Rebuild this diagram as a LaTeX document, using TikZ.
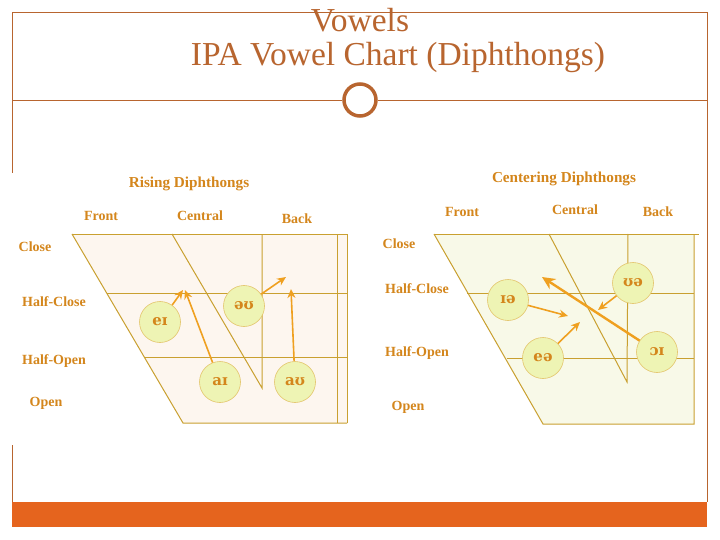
\documentclass[tikz,border=0pt]{standalone}
\usepackage{fontspec}
\setmainfont{Liberation Serif}
\newfontfamily\ipafont{DejaVu Serif}
\usetikzlibrary{arrows.meta}
\definecolor{frameC}{HTML}{B8652F}
\definecolor{barC}{HTML}{E5641E}
\definecolor{lineC}{HTML}{C9A030}
\definecolor{labC}{HTML}{D4861C}
\definecolor{fillL}{HTML}{FDF6EF}
\definecolor{fillR}{HTML}{F8F9E8}
\definecolor{circF}{HTML}{EEF4B4}
\definecolor{circD}{HTML}{E3C46A}
\definecolor{arrC}{HTML}{EFA020}
\tikzset{
  frame/.style={draw=frameC, line width=0.9pt},
  grid/.style={draw=lineC, line width=1pt},
  lab/.style={text=labC, font=\bfseries\fontsize{14}{16}\selectfont, inner sep=0pt},
  head/.style={text=labC, font=\bfseries\fontsize{15.2}{17}\selectfont, inner sep=0pt},
  vow/.style={circle, draw=circD, fill=circF, line width=0.6pt, minimum size=41pt, inner sep=0pt,
     text=labC, font=\ipafont\bfseries\fontsize{15}{17}\selectfont},
  arr/.style={draw=arrC, line width=1.6pt, -{Stealth[length=9pt,width=8pt]}},
  bigarr/.style={draw=arrC, line width=2.4pt, -{Stealth[length=13pt,width=12pt]}},
  ttl/.style={text=frameC, font=\fontsize{33.5}{36}\selectfont, inner sep=0pt}
}
\begin{document}
\begin{tikzpicture}[x=1pt,y=-1pt]
\useasboundingbox (0,0) rectangle (720,540);
\fill[white] (0,0) rectangle (720,540);
% frame
\draw[frame] (12,173) -- (12,12) -- (707,12) -- (707,502);
\draw[frame] (12,445) -- (12,502);
\draw[frame] (12,100) -- (342,100);
\draw[frame] (378,100) -- (707,100);
\node[circle, draw=frameC, line width=3.5pt, minimum width=31pt, minimum height=32pt, inner sep=0pt] (orn) at (360,100) {};
\fill[barC] (12,502) rectangle (707,527);
% titles
\node[ttl] (t1) at (360,20) {Vowels};
\node[ttl] (t2) at (398,57) {IPA Vowel Chart (Diphthongs)};

% ---------- left chart ----------
\fill[fillL] (72,234) -- (347,234) -- (347,423) -- (183,423) -- cycle;
\draw[grid] (72,234) -- (347,234);
\draw[grid] (72,234) -- (183,423) -- (347,423);
\draw[grid] (337,234) -- (337,423);
\draw[grid] (347,234) -- (347,423);
\draw[grid] (107,293) -- (347,293);
\draw[grid] (144,357) -- (347,357);
\draw[grid] (172,234) -- (262,388) -- (262,234);

\node[head] (hl) at (189,184) {Rising Diphthongs};
\node[lab] (lf) at (101,216) {Front};
\node[lab] (lc) at (200,216) {Central};
\node[lab] (lb) at (297,219) {Back};
\node[lab] (lcl) at (35,247) {Close};
\node[lab] (lhc) at (54,302) {Half-Close};
\node[lab] (lho) at (54,361) {Half-Open};
\node[lab] (lop) at (46,403) {Open};

\node[vow] (ei) at (160,322) {eɪ};
\node[vow] (ou) at (244,306) {əʊ};
\node[vow] (ai) at (220,382) {aɪ};
\node[vow] (au) at (295,382) {aʊ};
\coordinate (eiE) at (183,290);
\coordinate (aiE) at (185,290);
\coordinate (ouE) at (286,277);
\coordinate (auE) at (291,289);
\draw[arr] (ei) -- (eiE);
\draw[arr] (ai) -- (aiE);
\draw[arr] (ou) -- (ouE);
\draw[arr] (au) -- (auE);

% ---------- right chart ----------
\fill[fillR] (434,234) -- (694,234) -- (694,424) -- (543,424) -- cycle;
\draw[grid] (434,234) -- (699,234);
\draw[grid] (434,234) -- (543,424) -- (694,424) -- (694,234);
\draw[grid] (467,293) -- (694,293);
\draw[grid] (507,358) -- (694,358);
\draw[grid] (549,234) -- (627,382) -- (628,234);

\node[head] (hr) at (564,179) {Centering Diphthongs};
\node[lab] (rf) at (462,212) {Front};
\node[lab] (rc) at (575,210) {Central};
\node[lab] (rb) at (658,212) {Back};
\node[lab] (rcl) at (399,244) {Close};
\node[lab] (rhc) at (417,289) {Half-Close};
\node[lab] (rho) at (417,353) {Half-Open};
\node[lab] (rop) at (408,407) {Open};

\node[vow] (ia) at (508,300) {ɪə};
\node[vow] (ua) at (633,283) {ʊə};
\node[vow] (ea) at (543,358) {eə};
\node[vow] (oi) at (657,352) {ɔɪ};
\coordinate (iaE) at (568,316);
\coordinate (eaE) at (580,322);
\coordinate (uaE) at (598,310);
\coordinate (oiE) at (542,277);
\draw[arr] (ia) -- (iaE);
\draw[arr] (ea) -- (eaE);
\draw[arr] (ua) -- (uaE);
\draw[bigarr] (oi) -- (oiE);
\end{tikzpicture}
\end{document}
